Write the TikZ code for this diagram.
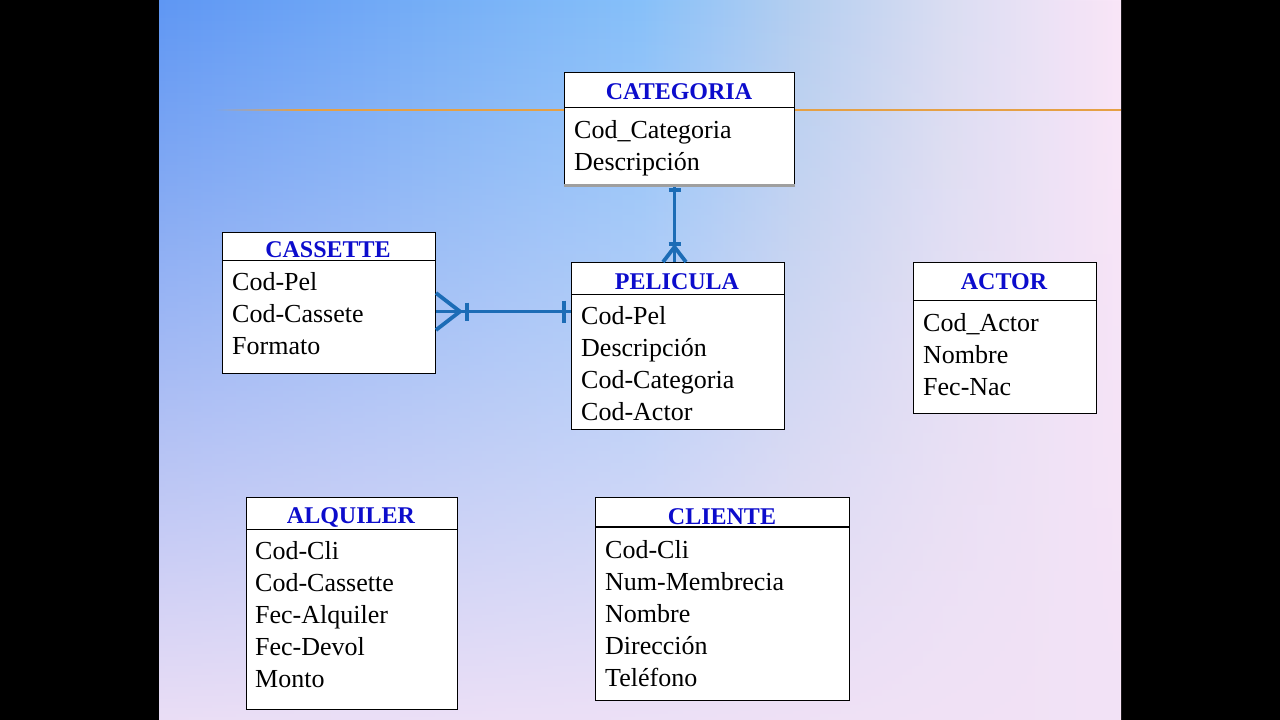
\documentclass[tikz,border=0pt]{standalone}
\usepackage{fontspec}
\setmainfont{Liberation Serif}
\usetikzlibrary{fadings,calc}
\definecolor{bgA}{HTML}{5F97F3}
\definecolor{bgB}{HTML}{86C0FA}
\definecolor{bgC}{HTML}{B3CEF0}
\definecolor{bgD}{HTML}{DADDF2}
\definecolor{bgE}{HTML}{FAE6F8}
\definecolor{bgPink}{HTML}{F2E2F6}
\definecolor{relblue}{HTML}{1C6CB6}
\definecolor{ttlblue}{HTML}{0C0CCC}
\definecolor{orangeline}{HTML}{E5A045}
\pgfdeclarehorizontalshading{bgshade}{100bp}{color(0bp)=(bgA); color(25bp)=(bgA); color(50bp)=(bgB); color(58bp)=(bgC); color(66bp)=(bgD); color(75bp)=(bgE); color(100bp)=(bgE)}
\tikzfading[name=vfade, top color=transparent!100, middle color=transparent!82, bottom color=transparent!5]
\tikzfading[name=hfade, left color=transparent!100, right color=transparent!0]
\begin{document}
\begin{tikzpicture}[x=1pt,y=-1pt,
  tbl/.style={draw=black, line width=1pt, fill=white, inner sep=0pt, anchor=north west},
  hdr/.style={draw=black, line width=1pt},
  ttl/.style={inner sep=0pt, anchor=center, text=ttlblue, font=\fontsize{24}{28}\selectfont\bfseries},
  att/.style={inner sep=0pt, anchor=base west, text=black, font=\fontsize{26}{30}\selectfont},
  rel/.style={draw=relblue, line width=3.8pt, line join=round}]
% background
\useasboundingbox (0,0) rectangle (1280,720);
\fill[black] (0,0) rectangle (1280,720);
\shade[shading=bgshade] (159,0) rectangle (1121,720);
\fill[bgPink, path fading=vfade] (159,0) rectangle (1121,720);
% orange line
\fill[orangeline, path fading=hfade] (215,109.1) rectangle (300,110.9);
\draw[orangeline, line width=1.8pt] (299,110) -- (1121,110);

% CATEGORIA
\node[tbl, minimum width=230, minimum height=114] (cat) at (564,72) {};
\draw[hdr] ($(cat.north west)+(0,35)$) -- ($(cat.north east)+(0,35)$);
\draw[gray!75, line width=3pt] ($(cat.south west)+(0,-1.5)$) -- ($(cat.south east)+(0,-1.5)$);
\node[ttl] (catT) at (679,92) {CATEGORIA};
\node[att] (catA1) at (574,138) {Cod\_Categoria};
\node[att] (catA2) at (574,170) {Descripción};

% CASSETTE
\node[tbl, minimum width=213, minimum height=141] (cas) at (222,232) {};
\node[ttl] (casT) at (328,250) {CASSETTE};
\draw[hdr] ($(cas.north west)+(0,28)$) -- ($(cas.north east)+(0,28)$);
\node[att] (casA1) at (232,290) {Cod-Pel};
\node[att] (casA2) at (232,322) {Cod-Cassete};
\node[att] (casA3) at (232,354) {Formato};

% PELICULA
\node[tbl, minimum width=213, minimum height=167] (pel) at (571,262) {};
\draw[hdr] ($(pel.north west)+(0,32)$) -- ($(pel.north east)+(0,32)$);
\node[ttl] (pelT) at (677,282) {PELICULA};
\node[att] (pelA1) at (581,324) {Cod-Pel};
\node[att] (pelA2) at (581,356) {Descripción};
\node[att] (pelA3) at (581,388) {Cod-Categoria};
\node[att] (pelA4) at (581,420) {Cod-Actor};

% ACTOR
\node[tbl, minimum width=183, minimum height=151] (act) at (913,262) {};
\draw[hdr] ($(act.north west)+(0,38)$) -- ($(act.north east)+(0,38)$);
\node[ttl] (actT) at (1004,282) {ACTOR};
\node[att] (actA1) at (923,331) {Cod\_Actor};
\node[att] (actA2) at (923,363) {Nombre};
\node[att] (actA3) at (923,395) {Fec-Nac};

% ALQUILER
\node[tbl, minimum width=211, minimum height=212] (alq) at (246,497) {};
\draw[hdr] ($(alq.north west)+(0,32)$) -- ($(alq.north east)+(0,32)$);
\node[ttl] (alqT) at (351,517) {ALQUILER};
\node[att] (alqA1) at (255,559) {Cod-Cli};
\node[att] (alqA2) at (255,591) {Cod-Cassette};
\node[att] (alqA3) at (255,623) {Fec-Alquiler};
\node[att] (alqA4) at (255,655) {Fec-Devol};
\node[att] (alqA5) at (255,687) {Monto};

% CLIENTE
\node[tbl, minimum width=254, minimum height=203] (cli) at (595,497) {};
\draw[hdr, line width=2.5pt] ($(cli.north west)+(0,30)$) -- ($(cli.north east)+(0,30)$);
\node[ttl] (cliT) at (722,517) {CLIENTE};
\node[att] (cliA1) at (605,558) {Cod-Cli};
\node[att] (cliA2) at (605,590) {Num-Membrecia};
\node[att] (cliA3) at (605,622) {Nombre};
\node[att] (cliA4) at (605,654) {Dirección};
\node[att] (cliA5) at (605,686) {Teléfono};

% CATEGORIA -- PELICULA
\draw[rel] ($(cat.south)+(-5,0)$) -- ($(pel.north)+(-3.5,0)$);
\draw[rel] ($(cat.south)+(-11,3)$) -- ($(cat.south)+(1,3)$);
\draw[rel] ($(pel.north)+(-9.5,-18)$) -- ($(pel.north)+(2.5,-18)$);
\draw[rel] ($(pel.north)+(-15,0)$) -- ($(pel.north)+(-3.5,-15)$) -- ($(pel.north)+(8,0)$);

% CASSETTE -- PELICULA
\draw[rel] ($(cas.east)+(0,8.5)$) -- ($(pel.west)+(0,-34.5)$);
\draw[rel] ($(cas.east)+(0,-10)$) -- ($(cas.east)+(24,8.5)$) -- ($(cas.east)+(0,27)$);
\draw[rel] ($(cas.east)+(31,-0.5)$) -- ($(cas.east)+(31,17.5)$);
\draw[rel] ($(pel.west)+(-7,-45.5)$) -- ($(pel.west)+(-7,-23.5)$);
\end{tikzpicture}
\end{document}
